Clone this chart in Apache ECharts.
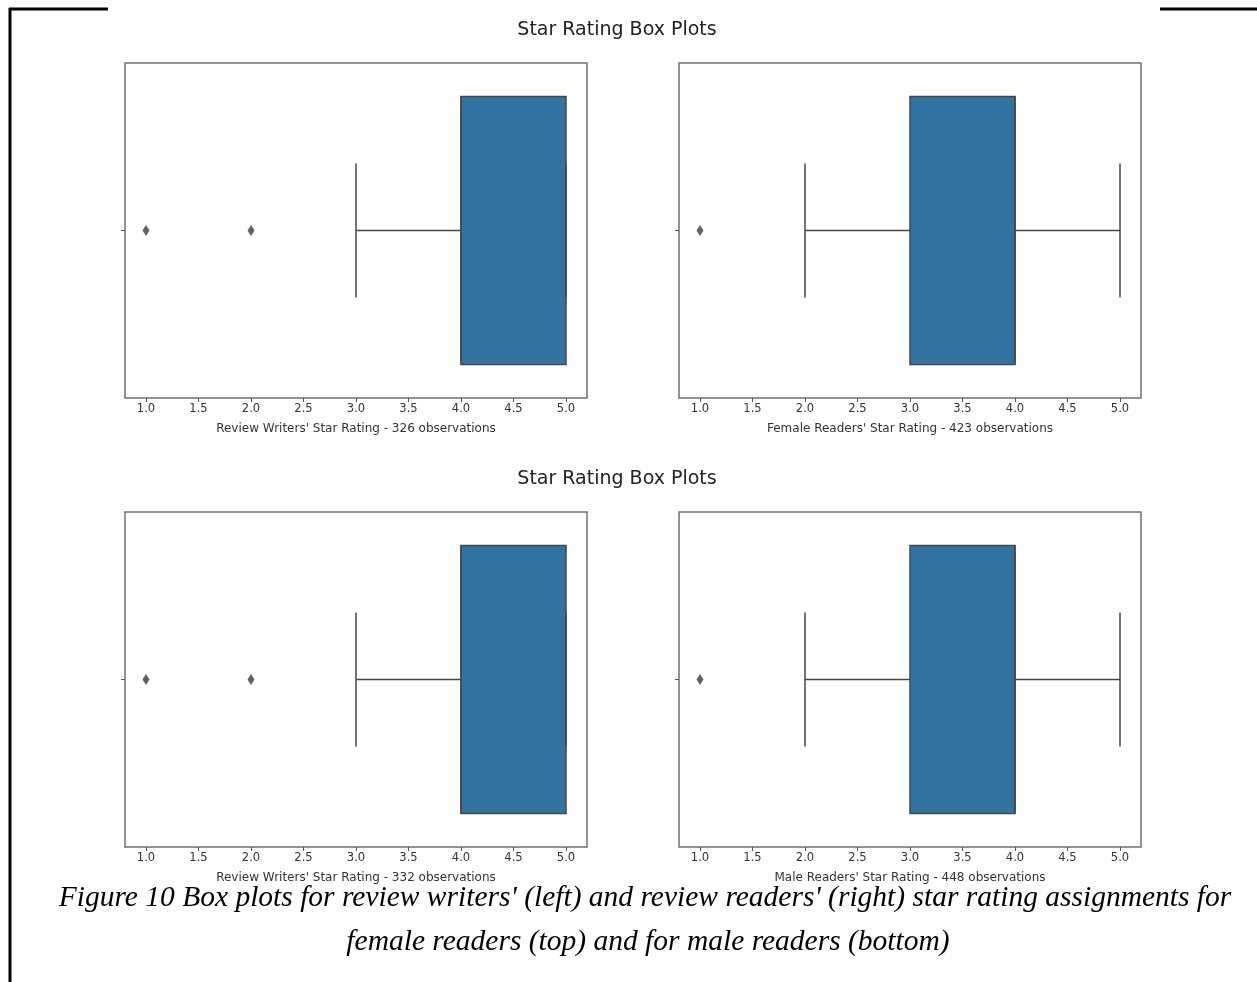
<!DOCTYPE html>
<html>
<head>
<meta charset="utf-8">
<title>Star Rating Box Plots</title>
<script src="https://cdn.jsdelivr.net/npm/echarts@6/dist/echarts.min.js"></script>
<style>
  html, body { margin: 0; padding: 0; background: #fff; }
  #chart { width: 1257px; height: 982px; }
</style>
</head>
<body>
<div id="chart"></div>
<script>
// Five-number summaries: [lower whisker, Q1, median, Q3, upper whisker]
const writersFemale = [3, 4, 4, 5, 5];
const readersFemale = [2, 3, 4, 4, 5];
const writersMale = [3, 4, 4, 5, 5];
const readersMale = [2, 3, 4, 4, 5];

// Points beyond the whiskers
const writersFemaleOutliers = [1, 2];
const readersFemaleOutliers = [1];
const writersMaleOutliers = [1, 2];
const readersMaleOutliers = [1];

// Axis names and tick values
const axisNames = [
  "Review Writers' Star Rating - 326 observations",
  "Female Readers' Star Rating - 423 observations",
  "Review Writers' Star Rating - 332 observations",
  "Male Readers' Star Rating - 448 observations"
];
const xTicks = [1.0, 1.5, 2.0, 2.5, 3.0, 3.5, 4.0, 4.5, 5.0];
const figureTitle = 'Star Rating Box Plots';
const captionLines = [
  "Figure 10 Box plots for review writers' (left) and review readers' (right) star rating assignments for",
  "female readers (top) and for male readers (bottom)"
];

const summaries = [writersFemale, readersFemale, writersMale, readersMale];
const outliers = [writersFemaleOutliers, readersFemaleOutliers, writersMaleOutliers, readersMaleOutliers];

const BOX_FILL = '#3274a1';
const LINE = '#474747';
const TEXT = '#333333';
const SANS = 'DejaVu Sans';

const gridPos = [
  { left: 125, top: 63 },
  { left: 679, top: 63 },
  { left: 125, top: 512 },
  { left: 679, top: 512 }
];

const grids = gridPos.map(p => ({
  left: p.left, top: p.top, width: 462, height: 335,
  show: true, borderColor: '#707070', borderWidth: 1.5, backgroundColor: '#fff'
}));

const xAxes = gridPos.map((p, i) => ({
  type: 'value', gridIndex: i, min: 0.8, max: 5.2, position: 'bottom',
  name: axisNames[i], nameLocation: 'middle', nameGap: 25,
  nameTextStyle: { fontFamily: SANS, fontSize: 12, color: TEXT },
  axisLine: { show: false, onZero: false },
  splitLine: { show: false },
  axisTick: { show: true, inside: false, length: 4, customValues: xTicks, lineStyle: { color: '#555', width: 1 } },
  axisLabel: { show: true, customValues: xTicks, margin: 5, fontFamily: SANS, fontSize: 11.5, color: TEXT,
    formatter: v => Number(v).toFixed(1) }
}));

const yAxes = gridPos.map((p, i) => ({
  type: 'value', gridIndex: i, min: -0.5, max: 0.5, position: 'left',
  axisLine: { show: false, onZero: false },
  splitLine: { show: false },
  axisTick: { show: true, inside: false, length: 4, customValues: [0], lineStyle: { color: '#555', width: 1 } },
  axisLabel: { show: true, customValues: [0], formatter: () => '' }
}));

function renderBox(params, api) {
  const lo = api.value(0), q1 = api.value(1), med = api.value(2), q3 = api.value(3), hi = api.value(4);
  const c = api.coord([q1, 0]);
  const cy = c[1];
  const halfBox = api.size([0, 0.4])[1];
  const halfCap = api.size([0, 0.2])[1];
  const xLo = api.coord([lo, 0])[0];
  const xQ1 = c[0];
  const xMed = api.coord([med, 0])[0];
  const xQ3 = api.coord([q3, 0])[0];
  const xHi = api.coord([hi, 0])[0];
  const ls = { stroke: LINE, lineWidth: 1.5 };
  return {
    type: 'group',
    children: [
      { type: 'line', shape: { x1: xLo, y1: cy, x2: xQ1, y2: cy }, style: ls },
      { type: 'line', shape: { x1: xQ3, y1: cy, x2: xHi, y2: cy }, style: ls },
      { type: 'rect', shape: { x: xQ1, y: cy - halfBox, width: xQ3 - xQ1, height: 2 * halfBox },
        style: { fill: BOX_FILL, stroke: LINE, lineWidth: 1.5 } },
      { type: 'line', shape: { x1: xMed, y1: cy - halfBox, x2: xMed, y2: cy + halfBox }, style: ls },
      { type: 'line', shape: { x1: xLo, y1: cy - halfCap, x2: xLo, y2: cy + halfCap }, style: ls },
      { type: 'line', shape: { x1: xHi, y1: cy - halfCap, x2: xHi, y2: cy + halfCap }, style: ls }
    ]
  };
}

const series = [];
summaries.forEach((s, i) => {
  series.push({
    type: 'custom', xAxisIndex: i, yAxisIndex: i,
    renderItem: renderBox,
    encode: { x: [0, 1, 2, 3, 4], y: 5 },
    data: [[...s, 0]],
    silent: true
  });
  series.push({
    type: 'scatter', xAxisIndex: i, yAxisIndex: i,
    symbol: 'diamond', symbolSize: [7, 11],
    itemStyle: { color: '#3a3a3a' },
    data: outliers[i].map(v => [v, 0]),
    silent: true
  });
});

const chart = echarts.init(document.getElementById('chart'), null, { renderer: 'canvas' });
chart.setOption({
  animation: false,
  backgroundColor: '#fff',
  grid: grids,
  xAxis: xAxes,
  yAxis: yAxes,
  series: series,
  graphic: [
    // page frame fragments
    { type: 'line', shape: { x1: 10, y1: 8, x2: 10, y2: 982 }, style: { stroke: '#000', lineWidth: 3 } },
    { type: 'line', shape: { x1: 9, y1: 9, x2: 108, y2: 9 }, style: { stroke: '#000', lineWidth: 3 } },
    { type: 'line', shape: { x1: 1160, y1: 9, x2: 1257, y2: 9 }, style: { stroke: '#000', lineWidth: 3 } },
    // figure titles
    { type: 'text', x: 617, y: 30, style: { text: figureTitle, font: '19px "DejaVu Sans"', fill: '#222', textAlign: 'center', textVerticalAlign: 'middle' } },
    { type: 'text', x: 617, y: 479, style: { text: figureTitle, font: '19px "DejaVu Sans"', fill: '#222', textAlign: 'center', textVerticalAlign: 'middle' } },
    // caption
    { type: 'text', x: 645, y: 898, style: { text: captionLines[0], font: 'italic 29.5px "Liberation Serif"', fill: '#000', textAlign: 'center', textVerticalAlign: 'middle' } },
    { type: 'text', x: 648, y: 942, style: { text: captionLines[1], font: 'italic 29.5px "Liberation Serif"', fill: '#000', textAlign: 'center', textVerticalAlign: 'middle' } }
  ]
});
</script>
</body>
</html>
